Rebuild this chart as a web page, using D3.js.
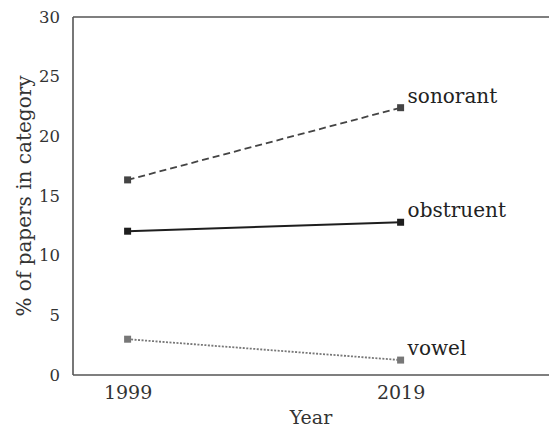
<!DOCTYPE html>
<html>
<head>
<meta charset="utf-8">
<script src="https://cdn.jsdelivr.net/npm/d3@7"></script>
<style>
  html, body { margin: 0; padding: 0; background: #fff; }
  svg { display: block; font-family: "DejaVu Serif", serif; }
</style>
</head>
<body>
<svg id="chart" width="549" height="428"></svg>
<script>
// Share of papers by segment category, 1999 vs 2019
const years = [1999, 2019];
const categories = ["sonorant", "obstruent", "vowel"];
const sonorant = [16.35, 22.4];
const obstruent = [12.05, 12.8];
const vowel = [3.0, 1.25];
const yTicks = [0, 5, 10, 15, 20, 25, 30];

const seriesValues = { sonorant, obstruent, vowel };
const styles = {
  sonorant:  { color: "#444", dash: "7,4" },
  obstruent: { color: "#1e1e1e", dash: null },
  vowel:     { color: "#777", dash: "2,1.5" }
};

const svg = d3.select("#chart");
const margin = { left: 73, top: 17, bottom: 375 };

const x = d3.scaleLinear().domain([1995, 2031]).range([margin.left, margin.left + 36 * 13.65]);
const y = d3.scaleLinear().domain([0, 30]).range([margin.bottom, margin.top]);

// frame: left, top and bottom edges (right edge runs past the view)
const frame = svg.append("g").attr("stroke", "#555").attr("stroke-width", 1.6).attr("fill", "none");
frame.append("line").attr("x1", x(1995)).attr("x2", x(1995)).attr("y1", y(30)).attr("y2", y(0));
frame.append("line").attr("x1", x(1995)).attr("x2", 560).attr("y1", y(30)).attr("y2", y(30));
frame.append("line").attr("x1", x(1995)).attr("x2", 560).attr("y1", y(0)).attr("y2", y(0));

// y axis labels without tick marks
const yAxis = d3.axisLeft(y).tickValues(yTicks).tickSize(0).tickPadding(13).tickFormat(d3.format("d"));
const gy = svg.append("g").attr("transform", `translate(${x(1995)},0)`).call(yAxis);
gy.select(".domain").remove();
gy.selectAll("text").attr("font-size", 16.5).attr("fill", "#333").attr("font-family", "DejaVu Serif");

const xAxis = d3.axisBottom(x).tickValues(years).tickSize(0).tickPadding(11).tickFormat(d3.format("d"));
const gx = svg.append("g").attr("transform", `translate(0,${y(0)})`).call(xAxis);
gx.select(".domain").remove();
gx.selectAll("text").attr("font-size", 19).attr("fill", "#333").attr("font-family", "DejaVu Serif");

svg.append("text").attr("x", 311).attr("y", 424).attr("text-anchor", "middle")
  .attr("font-size", 19).attr("fill", "#333").text("Year");
svg.append("text").attr("transform", "translate(31,196) rotate(-90)").attr("text-anchor", "middle")
  .attr("font-size", 20).attr("fill", "#333").text("% of papers in category");

const line = d3.line().x((d, i) => x(years[i])).y(d => y(d));

categories.forEach(cat => {
  const vals = seriesValues[cat];
  const st = styles[cat];
  svg.append("path").datum(vals)
    .attr("d", line).attr("fill", "none")
    .attr("stroke", st.color).attr("stroke-width", cat === "obstruent" ? 2 : 1.8)
    .attr("stroke-dasharray", st.dash);
  svg.selectAll(null).data(vals).enter().append("rect")
    .attr("x", (d, i) => x(years[i]) - 3.5).attr("y", d => y(d) - 3.5)
    .attr("width", 7).attr("height", 7).attr("fill", st.color);
  svg.append("text")
    .attr("x", x(years[1]) + 7).attr("y", y(vals[1]) - 5)
    .attr("font-size", 20).attr("fill", "#222").text(cat);
});
</script>
</body>
</html>
